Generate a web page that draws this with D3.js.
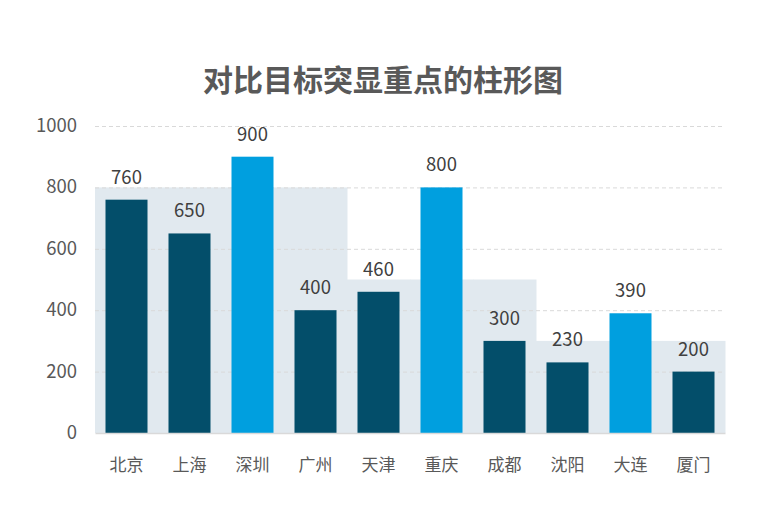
<!DOCTYPE html>
<html>
<head>
<meta charset="utf-8">
<script src="https://cdn.jsdelivr.net/npm/d3@7"></script>
<style>
  body { margin: 0; background: #fff; }
  svg text { font-family: "Noto Sans CJK SC", "Noto Sans", sans-serif; }
</style>
</head>
<body>
<svg id="chart" width="771" height="513"></svg>
<script>
// data
var cities = ["北京", "上海", "深圳", "广州", "天津", "重庆", "成都", "沈阳", "大连", "厦门"];
var actual = [760, 650, 900, 400, 460, 800, 300, 230, 390, 200];
var target = [800, 800, 800, 800, 500, 500, 500, 300, 300, 300];
var yTicks = [0, 200, 400, 600, 800, 1000];

var svg = d3.select("#chart");
var plotLeft = 95, plotRight = 725, plotTop = 126, plotBottom = 433;

var x = d3.scaleBand().domain(cities).range([plotLeft, plotRight]).paddingInner(0).paddingOuter(0);
var y = d3.scaleLinear().domain([0, 1000]).range([plotBottom, plotTop]);

var rows = cities.map(function(c, i) {
  return { city: c, value: actual[i], target: target[i] };
});

// title
svg.append("text")
  .attr("x", 383).attr("y", 91)
  .attr("text-anchor", "middle")
  .style("font-size", "30px")
  .style("font-weight", "bold")
  .style("fill", "#595959")
  .text("对比目标突显重点的柱形图");

// target shading
svg.append("g").selectAll("rect")
  .data(rows)
  .enter().append("rect")
    .attr("x", function(d) { return x(d.city); })
    .attr("width", x.bandwidth() + 0.5)
    .attr("y", function(d) { return y(d.target); })
    .attr("height", function(d) { return y(0) - y(d.target); })
    .style("fill", "#e1e9ef");

// gridlines
svg.append("g").selectAll("line")
  .data(yTicks.filter(function(t) { return t > 0; }))
  .enter().append("line")
    .attr("x1", plotLeft).attr("x2", plotRight - 3)
    .attr("y1", function(d) { return y(d) + 0.5; })
    .attr("y2", function(d) { return y(d) + 0.5; })
    .style("stroke", "#d9d9d9")
    .style("stroke-dasharray", "4,3");

// y axis labels
var yAxis = d3.axisLeft(y).tickValues(yTicks).tickFormat(d3.format("d")).tickSize(0).tickPadding(0);
var yg = svg.append("g")
  .attr("transform", "translate(77,0)")
  .call(yAxis);
yg.select(".domain").remove();
yg.selectAll("text")
  .style("font-size", "18.5px")
  .style("fill", "#595959")
  .attr("dy", "0.3em");

// bars
var barW = 42;
svg.append("g").selectAll("rect")
  .data(rows)
  .enter().append("rect")
    .attr("x", function(d) { return x(d.city) + (x.bandwidth() - barW) / 2; })
    .attr("width", barW)
    .attr("y", function(d) { return y(d.value); })
    .attr("height", function(d) { return y(0) - y(d.value); })
    .style("fill", function(d) { return d.value > d.target ? "#009fdf" : "#034e6a"; });

// value labels
svg.append("g").selectAll("text")
  .data(rows)
  .enter().append("text")
    .attr("x", function(d) { return x(d.city) + x.bandwidth() / 2; })
    .attr("y", function(d) { return y(d.value) - 16; })
    .attr("text-anchor", "middle")
    .style("font-size", "18.5px")
    .style("fill", "#404040")
    .text(function(d) { return d.value; });

// x axis
var xAxis = d3.axisBottom(x).tickSize(0).tickPadding(0);
var xg = svg.append("g")
  .attr("transform", "translate(0," + plotBottom + ")")
  .call(xAxis);
xg.select(".domain")
  .style("stroke", "#d9d9d9")
  .style("stroke-width", 1.5);
xg.selectAll("text")
  .attr("y", 32)
  .attr("dy", "0.35em")
  .style("font-size", "17px")
  .style("fill", "#595959");
</script>
</body>
</html>
